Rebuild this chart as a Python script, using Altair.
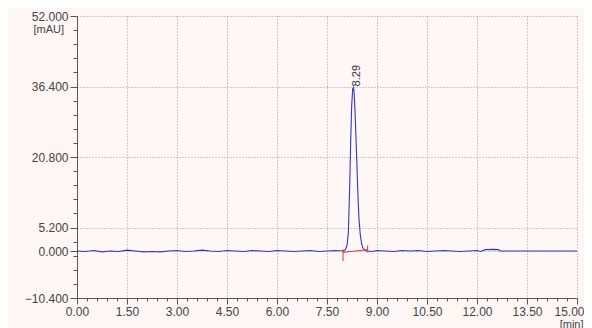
import altair as alt
import pandas as pd

# Chromatogram trace (time in min, signal in mAU)
t = [0.00, 0.25, 0.50, 0.75, 1.00, 1.25, 1.50, 1.75, 2.00, 2.25, 2.50, 2.75,
     3.00, 3.25, 3.50, 3.75, 4.00, 4.25, 4.50, 4.75, 5.00, 5.25, 5.50, 5.75,
     6.00, 6.25, 6.50, 6.75, 7.00, 7.25, 7.50, 7.75, 8.00,
     8.05, 8.10, 8.14, 8.18, 8.21, 8.24, 8.27, 8.29, 8.31, 8.34, 8.37, 8.40,
     8.43, 8.46, 8.50, 8.54, 8.58, 8.63, 8.70,
     8.85, 9.00, 9.25, 9.50, 9.75, 10.00, 10.25, 10.50, 10.75, 11.00, 11.25,
     11.50, 11.75, 12.00, 12.10, 12.25, 12.50, 12.65, 12.70, 13.00, 13.50,
     14.00, 14.50, 15.00]
v = [0.0, -0.1, 0.1, -0.2, 0.0, -0.1, 0.2, 0.0, -0.2, -0.1, -0.2, 0.0,
     0.1, -0.1, 0.0, 0.2, 0.0, -0.1, 0.1, 0.0, -0.1, 0.1, 0.0, -0.1,
     0.1, 0.0, -0.1, 0.0, 0.1, -0.1, 0.0, 0.1, 0.0,
     0.3, 1.2, 4.0, 14.0, 24.0, 32.0, 35.8, 36.2, 35.5, 31.0, 25.0, 18.5,
     12.0, 7.0, 3.5, 1.5, 0.6, 0.2, 0.0,
     -0.1, 0.1, 0.0, -0.1, 0.1, 0.0, 0.1, -0.1, 0.0, 0.1, 0.0,
     -0.1, 0.0, 0.1, -0.1, 0.3, 0.35, 0.3, 0.0, 0.0, 0.0,
     0.0, 0.0, 0.0]

# Integration baseline (red)
base_t = [7.98, 8.72]
base_v = [-0.3, 0.3]
mark_t = [7.98, 8.72]
mark_lo = [-2.2, -0.3]
mark_hi = [0.4, 1.2]

# Peak label
peak_t = [8.29]
peak_v = [36.2]
peak_lbl = ["8.29"]

x_ticks = [0.0, 0.3, 0.6, 0.9, 1.2, 1.5, 1.8, 2.1, 2.4, 2.7, 3.0, 3.3, 3.6, 3.9,
           4.2, 4.5, 4.8, 5.1, 5.4, 5.7, 6.0, 6.3, 6.6, 6.9, 7.2, 7.5, 7.8, 8.1,
           8.4, 8.7, 9.0, 9.3, 9.6, 9.9, 10.2, 10.5, 10.8, 11.1, 11.4, 11.7,
           12.0, 12.3, 12.6, 12.9, 13.2, 13.5, 13.8, 14.1, 14.4, 14.7, 15.0]
x_major = [0.0, 1.5, 3.0, 4.5, 6.0, 7.5, 9.0, 10.5, 12.0, 13.5, 15.0]
y_ticks = [-10.4, -7.28, -4.16, -1.04, 0.0, 2.08, 5.2, 8.32, 11.44, 14.56,
           17.68, 20.8, 23.92, 27.04, 30.16, 33.28, 36.4, 39.52, 42.64, 45.76,
           48.88, 52.0]
y_major = [-10.4, 0.0, 5.2, 20.8, 36.4, 52.0]

xm = "indexof(%s, datum.value) >= 0" % str(x_major)
ym = "indexof(%s, datum.value) >= 0" % str(y_major)
xlast = "datum.value == 15"

FONT = "Liberation Sans"
AX = "#555555"

trace = pd.DataFrame({"t": t, "v": v})
base = pd.DataFrame({"t": base_t, "v": base_v})
marks = pd.DataFrame({"t": mark_t, "lo": mark_lo, "hi": mark_hi})
peak = pd.DataFrame({"t": peak_t, "v": peak_v, "lbl": peak_lbl})

xscale = alt.Scale(domain=[0, 15], nice=False, zero=False)
yscale = alt.Scale(domain=[-10.4, 52], nice=False, zero=False)

xaxis = alt.Axis(
    values=x_ticks, tickCount=200,
    labelExpr=xm + " ? format(datum.value, '.2f') : ''",
    labelOverlap=False, labelFlush=False, labelFont=FONT, labelFontSize=12,
    labelColor="#444444", labelPadding=2,
    labelAlign={"condition": {"test": xlast, "value": "right"}, "value": "center"},
    labelOffset={"condition": {"test": xlast, "value": 7}, "value": 0},
    tickSize={"condition": {"test": xm, "value": 6}, "value": 3},
    tickColor=AX, domainColor=AX,
    grid=True, gridDash=[1, 2], gridColor="#9a9a9a",
    gridOpacity={"condition": {"test": xm, "value": 1}, "value": 0},
    title="[min]", titleFont=FONT, titleFontSize=11, titleFontWeight="normal",
    titleColor="#444444", titleX=506, titleY=20, titleAlign="right",
    titleBaseline="top",
)
yaxis = alt.Axis(
    values=y_ticks, tickCount=200,
    labelExpr=ym + " ? format(datum.value, '.3f') : ''",
    labelOverlap=False, labelFlush=False, labelFont=FONT, labelFontSize=12,
    labelColor="#444444", labelPadding=2,
    tickSize={"condition": {"test": ym, "value": 7}, "value": 4},
    tickColor=AX, domainColor=AX,
    grid=True, gridDash=[1, 2], gridColor="#9a9a9a",
    gridOpacity={"condition": {"test": ym, "value": 1}, "value": 0},
    title="[mAU]", titleFont=FONT, titleFontSize=11, titleFontWeight="normal",
    titleColor="#444444", titleAngle=0, titleX=-44, titleY=7,
    titleAlign="left", titleBaseline="top",
)

line = alt.Chart(trace).mark_line(color="#3434cc", strokeWidth=1.1).encode(
    x=alt.X("t:Q", scale=xscale, axis=xaxis),
    y=alt.Y("v:Q", scale=yscale, axis=yaxis),
    order="t:Q",
)
red = alt.Chart(base).mark_line(color="#e0303a", strokeWidth=1).encode(
    x=alt.X("t:Q", scale=xscale), y=alt.Y("v:Q", scale=yscale)
)
redticks = alt.Chart(marks).mark_rule(color="#e0303a", strokeWidth=1).encode(
    x=alt.X("t:Q", scale=xscale), y=alt.Y("lo:Q", scale=yscale), y2="hi:Q"
)
label = alt.Chart(peak).mark_text(
    angle=270, align="left", baseline="middle", dx=1, dy=4,
    font=FONT, fontSize=11, color="#333333",
).encode(
    x=alt.X("t:Q", scale=xscale), y=alt.Y("v:Q", scale=yscale), text="lbl:N"
)

chart = alt.layer(line, red, redticks, label).properties(
    width=500, height=282,
    autosize=alt.AutoSizeParams(type="none"),
    padding={"left": 69, "top": 8, "right": 7, "bottom": 30},
    background="#fdf6f4",
).configure_view(stroke=None, fill="#fef7f5")

chart.save("out.html", embed_options={"renderer": "svg", "actions": False})
